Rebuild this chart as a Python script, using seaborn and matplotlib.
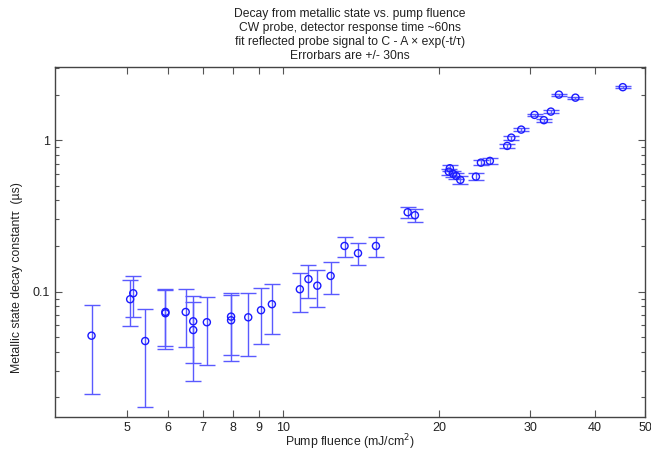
import matplotlib
matplotlib.use("Agg")
import matplotlib.pyplot as plt
import seaborn as sns
import pandas as pd
from matplotlib.ticker import FixedLocator, NullFormatter, NullLocator

# ---- data ----
fluence = [4.27, 5.07, 5.14, 5.42, 5.93, 5.93, 6.49, 6.71, 6.71, 7.13,
           7.94, 7.94, 8.57, 9.07, 9.52, 10.78, 11.2, 11.65, 12.36, 13.15,
           13.96, 15.12, 17.41, 17.98, 21.0, 20.9, 21.3, 21.6, 22.0, 23.58,
           24.11, 25.09, 27.1, 27.6, 28.84, 30.6, 31.9, 32.9, 34.1, 36.7, 45.3]
tau = [0.0512, 0.0891, 0.0976, 0.0472, 0.0720, 0.0735, 0.0734, 0.0637, 0.0558, 0.0628,
       0.0684, 0.0647, 0.0677, 0.0754, 0.0826, 0.1037, 0.121, 0.1095, 0.127, 0.2003,
       0.1794, 0.2003, 0.3345, 0.3196, 0.653, 0.62, 0.60, 0.581, 0.547, 0.575,
       0.711, 0.730, 0.917, 1.04, 1.175, 1.47, 1.356, 1.545, 2.0, 1.91, 2.24]
err_us = 0.03  # errorbars +/- 30 ns

x_ticks = [5, 6, 7, 8, 9, 10, 20, 30, 40, 50]
x_tick_labels = ["5", "6", "7", "8", "9", "10", "20", "30", "40", "50"]
y_major = [0.1, 1]
y_major_labels = ["0.1", "1"]
y_minor = [0.02, 0.03, 0.04, 0.05, 0.06, 0.07, 0.08, 0.09,
           0.2, 0.3, 0.4, 0.5, 0.6, 0.7, 0.8, 0.9, 2, 3]

title_lines = ["Decay from metallic state vs. pump fluence",
               "CW probe, detector response time ~60ns",
               "fit reflected probe signal to C - A \u00d7 exp(-t/\u03c4)",
               "Errorbars are +/- 30ns"]

df = pd.DataFrame({"fluence": fluence, "tau": tau})

sns.set_theme(style="white")
plt.rcParams['font.family'] = ['Liberation Sans', 'DejaVu Sans']

fig = plt.figure(figsize=(6.51, 4.54), dpi=100)
ax = fig.add_axes([55 / 651, 1 - 417.3 / 454, 590 / 651, 350 / 454])

ax.errorbar(df["fluence"], df["tau"], yerr=err_us, fmt="none",
            ecolor="#5a5aff", elinewidth=1.0, capsize=5.8, capthick=1.0, zorder=2)
sns.scatterplot(data=df, x="fluence", y="tau", ax=ax, marker="o", s=26,
                facecolor="none", edgecolor="#1a1aff", linewidth=1.0, zorder=3)

ax.set_xscale("log")
ax.set_yscale("log")
ax.set_xlim(3.63, 50)
ax.set_ylim(0.0148, 3.03)

ax.xaxis.set_major_locator(FixedLocator(x_ticks))
ax.set_xticklabels(x_tick_labels)
ax.xaxis.set_minor_locator(NullLocator())
ax.yaxis.set_major_locator(FixedLocator(y_major))
ax.set_yticklabels(y_major_labels)
ax.yaxis.set_minor_locator(FixedLocator(y_minor))
ax.yaxis.set_minor_formatter(NullFormatter())

ax.tick_params(axis="both", which="major", direction="in", length=5, width=0.8,
               color="#555555", labelsize=9, labelcolor="#222222",
               top=True, right=True, bottom=True, left=True, pad=3.5)
ax.tick_params(axis="y", which="minor", direction="in", length=3, width=0.8,
               color="#555555", left=True, right=True)

for sp in ax.spines.values():
    sp.set_color("#444444")
    sp.set_linewidth(1.0)

ax.set_xlabel("Pump fluence (mJ/cm$^2$)", fontsize=8.8, color="#222222", labelpad=-1)
ax.set_ylabel("Metallic state decay constant\u03c4  (\u00b5s)", fontsize=8.8, color="#222222")
ax.yaxis.set_label_coords(-0.055, 0.40)

ax.set_title("\n".join(title_lines), fontsize=8.7, color="#222222", linespacing=1.22, pad=6)

fig.savefig("out.png", dpi=100)
